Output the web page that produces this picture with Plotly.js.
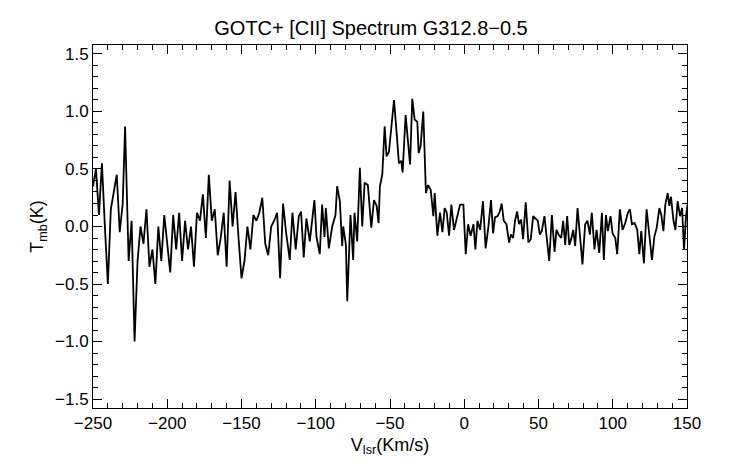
<!DOCTYPE html>
<html>
<head>
<meta charset="utf-8">
<script src="https://cdn.plot.ly/plotly-3.0.1.min.js"></script>
<style>html,body{margin:0;padding:0;background:#fff}</style>
</head>
<body>
<div id="plot" style="width:742px;height:464px"></div>
<script>
// Velocity (km/s) and main-beam temperature (K)
const vLeft = [-250,-248,-246,-244,-242,-240,-238,-236,-234,-232,-230,-228.4,-226,-224,-222,-220,-218,-216,-214,-212,-210,-208,-206,-204,-202,-200,-198,-196,-194,-192,-190,-188,-186,-184,-182,-180,-178,-176,-174,-172,-170,-168,-166,-164,-162,-160,-158,-156,-154,-152,-150,-148,-146,-144,-142,-140,-138,-136,-134,-132,-130,-128,-126,-124,-122,-120];
const tLeft = [0.35,0.5,0.1,0.55,0.0,-0.5,0.15,0.3,0.45,-0.05,0.2,0.87,-0.3,0.05,-1.0,-0.3,0.0,-0.15,0.15,-0.35,-0.2,-0.5,0.0,-0.3,0.1,-0.15,-0.4,0.1,-0.2,0.12,-0.3,0.05,-0.2,0.0,-0.35,0.12,0.05,0.28,-0.1,0.45,0.05,0.15,-0.25,-0.1,0.12,-0.35,0.4,0.0,0.3,-0.1,-0.45,-0.3,0.0,-0.2,0.1,0.05,0.12,0.25,-0.15,-0.25,0.0,0.05,0.12,-0.45,0.2,-0.05];
const vMid = [-117.5,-115.7,-113.5,-111.4,-109.9,-108.1,-106.3,-104.0,-102.4,-100.9,-99.5,-97.3,-95.7,-94.1,-93.2,-91.2,-88.9,-86.7,-85.6,-83.8,-82.2,-81.5,-79.7,-78.8,-76.6,-74.8,-73.9,-72.1,-70.3,-68.7,-67.1,-64.9,-62.6,-60.8,-59.0,-57.7,-56.8,-55.2,-53.6,-52.3,-50.7,-49.1,-47.3,-45.5,-44.0,-42.4,-41.5,-39.5,-37.9,-36.5,-35.0,-33.4,-31.6,-30.7,-29.4,-27.6,-25.8,-24.4,-22.6,-20.8,-19.9,-18.1,-16.3,-14.7,-13.2,-11.8,-10.2,-8.7,-6.9,-5.1,-2.8,-0.6,1.0,2.6,4.3,6.2,7.5,8.9,10.7];
const tMid = [-0.29,0.12,-0.20,0.09,0.13,-0.27,0.07,-0.13,0.07,0.23,-0.09,-0.24,0.19,-0.09,0.16,-0.19,0.0,0.10,0.35,0.22,-0.17,0.0,-0.16,-0.65,0.10,-0.29,0.12,-0.13,0.51,0.0,0.38,0.36,-0.01,0.23,0.18,0.03,0.35,0.45,0.87,0.61,0.65,0.87,1.10,0.81,0.55,0.57,0.47,0.97,0.73,0.54,1.11,0.93,0.91,0.64,0.70,1.00,0.29,0.36,0.32,0.09,0.29,-0.08,0.12,-0.05,0.16,0.12,-0.08,0.19,-0.03,0.07,0.19,0.19,-0.24,0.02,-0.08,0.02,-0.20,0.05,-0.03];
const vRight = [12.6,14.4,16.2,18.0,19.4,20.7,22.5,23.9,25.2,26.6,28.4,30.2,31.5,32.9,34.2,35.6,36.9,38.3,39.6,41.4,43.2,44.8,46.4,47.7,49.5,50.9,52.2,54.0,55.4,57.2,59.0,60.8,62.1,63.5,65.3,66.6,68.0,69.3,70.7,72.0,73.4,74.7,76.3,77.9,79.6,81.4,83.0,84.6,85.9,87.7,89.1,90.9,92.7,94.0,95.4,96.7,98.5,99.9,101.7,103.0,104.8,106.6,108.4,110.2,111.6,112.9,114.7,116.5,117.9,119.2,121.0,122.8,124.6,126.4,128.0,129.6,131.4,132.7,134.1,135.4,137.0,138.1,139.2,140.8,142.2,143.7,145.3,146.7,148.0,149.4,150.7];
const tRight = [0.22,-0.19,-0.01,0.23,-0.06,0.08,0.09,0.13,0.20,0.05,0.02,-0.14,-0.07,-0.10,0.05,0.13,0.02,0.06,-0.11,0.21,-0.14,-0.11,0.09,0.07,0.05,-0.07,-0.04,0.09,-0.06,-0.30,0.10,-0.22,-0.03,-0.07,-0.10,0.05,-0.16,0.09,-0.16,-0.11,-0.03,-0.17,0.16,-0.06,-0.33,0.02,0.05,-0.07,0.12,-0.20,-0.03,-0.23,0.12,-0.29,0.10,-0.04,0.09,-0.06,-0.10,-0.24,0.15,-0.03,0.03,0.12,0.15,0.02,0.03,-0.03,-0.24,-0.04,-0.32,0.15,-0.07,-0.29,-0.09,-0.01,0.16,0.10,-0.04,0.19,0.29,0.18,0.26,0.06,-0.03,0.22,0.09,0.16,-0.20,0.10,0.22];

const velocity = [...vLeft, ...vMid, ...vRight];
const tmb = [...tLeft, ...tMid, ...tRight];

const axisStyle = {
  showgrid: false, zeroline: false, showline: true, mirror: 'ticks',
  linecolor: '#000', linewidth: 1, ticks: 'inside', ticklen: 9, tickcolor: '#000',
  tickfont: { family: 'Liberation Sans, Arial, sans-serif', size: 17, color: '#000' }
};

const data = [{
  type: 'scatter', mode: 'lines', x: velocity, y: tmb,
  line: { color: '#000', width: 1.8 }, hoverinfo: 'skip', showlegend: false
}];

const layout = {
  width: 742, height: 464,
  margin: { l: 93, r: 55, t: 45, b: 56 },
  paper_bgcolor: '#fff', plot_bgcolor: '#fff',
  font: { family: 'Liberation Sans, Arial, sans-serif', color: '#000' },
  title: { text: 'GOTC+ [CII] Spectrum G312.8\u22120.5', x: 0.5, xanchor: 'center', y: 0.955, font: { size: 20 } },
  xaxis: Object.assign({}, axisStyle, {
    range: [-250, 150], dtick: 50, tick0: 0,
    minor: { dtick: 10, ticks: 'inside', ticklen: 5, tickcolor: '#000' },
    title: { text: 'V<sub>lsr</sub>(Km/s)', font: { size: 18 }, standoff: 5 }
  }),
  yaxis: Object.assign({}, axisStyle, {
    range: [-1.578, 1.578], dtick: 0.5, tick0: 0, tickformat: '.1f',
    minor: { dtick: 0.1, ticks: 'inside', ticklen: 5, tickcolor: '#000' },
    title: { text: 'T<sub>mb</sub>(K)', font: { size: 18 }, standoff: 6 }
  })
};

Plotly.newPlot('plot', data, layout, { displayModeBar: false, staticPlot: true });
</script>
</body>
</html>
